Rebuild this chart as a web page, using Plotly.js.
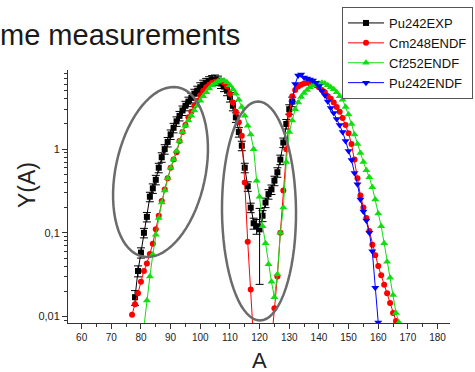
<!DOCTYPE html>
<html>
<head>
<meta charset="utf-8">
<script src="https://cdn.plot.ly/plotly-3.0.1.min.js"></script>
<style>html,body{margin:0;padding:0;background:#fff;}#chart{width:475px;height:372px;}</style>
</head>
<body>
<div id="chart"></div>
<script>
// ---- data ----
const seriesNames = ["Pu242EXP", "Cm248ENDF", "Cf252ENDF", "Pu242ENDF"];

const aPu242Exp = [78,79,80,81,82,83,84,85,86,87,88,89,90,91,92,93,94,95,96,97,98,99,100,101,102,103,104,105,106,107,108,109,110,111,112,113,114,115,116,117,118,119,120,121,122,123,124,125,126,127,128,129,130,131];
const yPu242Exp = [0.017,0.035,0.058,0.1,0.155,0.27,0.34,0.43,0.6,0.8,1.0,1.22,1.5,1.8,2.15,2.5,2.9,3.3,3.7,4.1,4.6,5.0,5.5,5.9,6.2,6.5,6.7,6.8,6.6,6.1,5.6,5.0,4.2,3.3,2.4,1.6,1.1,0.6,0.36,0.2,0.13,0.12,0.11,0.16,0.23,0.29,0.33,0.42,0.53,0.75,1.2,2.0,3.0,3.7];
const relErrPu242Exp = [0.2,0.15,0.14,0.13,0.13,0.13,0.13,0.13,0.13,0.13,0.13,0.13,0.13,0.13,0.13,0.13,0.13,0.13,0.13,0.13,0.13,0.13,0.13,0.13,0.13,0.13,0.13,0.13,0.13,0.13,0.13,0.13,0.13,0.13,0.13,0.13,0.13,0.13,0.13,0.13,0.15,0.2,0.78,0.15,0.13,0.13,0.13,0.13,0.13,0.13,0.13,0.13,0.13,0.13];

const aCm248 = [77,78,79,80,81,82,83,84,85,86,87,88,89,90,91,92,93,94,95,96,97,98,99,100,101,102,103,104,105,106,107,108,109,110,111,112,113,114,115,116,117,118,124,125,126,127,128,129,130,131,132,133,134,135,136,137,138,139,140,141,142,143,144,145,146,147,148,149,150,151,152,153,154,155,156,157,158,159,160,161,162,163,164,165,166];
const yCm248 = [0.0105,0.014,0.019,0.026,0.035,0.043,0.056,0.074,0.11,0.16,0.24,0.33,0.45,0.6,0.75,0.92,1.25,1.6,1.95,2.4,2.8,3.3,3.8,4.4,5.0,5.5,5.9,6.2,6.4,6.5,6.5,6.2,5.6,4.6,3.6,2.8,2.1,1.45,0.4,0.078,0.021,0.005,0.005,0.0125,0.03,0.1,0.32,1.0,2.6,4.3,5.1,5.6,5.9,6.1,6.2,6.1,6.0,5.8,5.5,5.1,4.8,4.3,4.0,3.6,3.2,2.8,2.35,1.95,1.55,1.15,0.75,0.45,0.28,0.2,0.15,0.105,0.072,0.054,0.04,0.031,0.024,0.019,0.0145,0.011,0.0088];

const aCf252 = [81,82,83,84,85,86,87,88,89,90,91,92,93,94,95,96,97,98,99,100,101,102,103,104,105,106,107,108,109,110,111,112,113,114,115,116,117,118,119,120,121,122,123,124,125,126,127,128,129,130,131,132,133,134,135,136,137,138,139,140,141,142,143,144,145,146,147,148,149,150,151,152,153,154,155,156,157,158,159,160,161,162,163,164,165,166,167];
const yCf252 = [0.0075,0.0155,0.03,0.055,0.095,0.15,0.23,0.32,0.45,0.6,0.75,0.95,1.25,1.6,1.9,2.2,2.5,2.9,3.3,3.8,4.3,4.8,5.3,5.8,6.1,6.5,6.7,6.6,6.3,5.8,5.2,4.6,3.9,3.2,2.5,1.9,1.5,1.0,0.42,0.27,0.12,0.075,0.042,0.026,0.017,0.032,0.1,0.2,0.7,1.6,2.2,3.0,3.6,4.2,4.7,5.1,5.5,5.8,6.0,6.1,6.2,6.1,5.8,5.5,5.2,4.8,4.3,3.9,3.2,2.6,2.0,1.5,1.15,0.9,0.7,0.56,0.46,0.35,0.25,0.17,0.12,0.075,0.045,0.029,0.018,0.011,0.0085];

const aPu242Endf = [131,132,133,134,135,136,137,138,139,140,141,142,143,144,145,146,147,148,149,150,151,152,153,154,155,156,157,158,159,160];
const yPu242Endf = [3.6,6.0,7.6,7.8,7.2,7.0,6.8,6.6,6.2,5.7,5.0,4.4,3.7,3.1,2.7,2.3,1.95,1.6,1.25,0.95,0.74,0.52,0.38,0.25,0.18,0.14,0.1,0.06,0.022,0.0085];

const yTickVals = [0.01, 0.1, 1];
const yTickText = ["0,01", "0,1", "1"];

// ---- layout geometry (pixels of the plot area) ----
const PL = 68, PT = 70, PW = 382, PH = 253;
function toPaper(px, py) { return [(px - PL) / PW, (PT + PH - py) / PH]; }
function ellipsePath(cx, cy, a, b, angDeg) {
  const t = angDeg * Math.PI / 180;
  const ux = Math.cos(t), uy = -Math.sin(t), vx = Math.sin(t), vy = Math.cos(t);
  let d = "";
  for (let i = 0; i <= 72; i++) {
    const s = i / 72 * 2 * Math.PI;
    const px = cx + a * Math.cos(s) * ux + b * Math.sin(s) * vx;
    const py = cy + a * Math.cos(s) * uy + b * Math.sin(s) * vy;
    const p = toPaper(px, py);
    d += (i === 0 ? "M" : "L") + p[0].toFixed(4) + "," + p[1].toFixed(4);
  }
  return d + "Z";
}

const FONT = "Liberation Sans, Arial, sans-serif";

const traces = [
  {
    name: seriesNames[0], x: aPu242Exp, y: yPu242Exp, type: "scatter", mode: "lines+markers",
    line: {color: "#000000", width: 1},
    marker: {symbol: "square", size: 6, color: "#000000"},
    error_y: {type: "data", array: yPu242Exp.map((v, i) => v * relErrPu242Exp[i]), visible: true,
              color: "#000000", thickness: 1, width: 4}
  },
  {
    name: seriesNames[1], x: aCm248, y: yCm248, type: "scatter", mode: "lines+markers",
    line: {color: "#ff0000", width: 1},
    marker: {symbol: "circle", size: 6, color: "#ff0000"}
  },
  {
    name: seriesNames[2], x: aCf252, y: yCf252, type: "scatter", mode: "lines+markers",
    line: {color: "#11dd11", width: 1},
    marker: {symbol: "triangle-up", size: 7, color: "#11dd11"}
  },
  {
    name: seriesNames[3], x: aPu242Endf, y: yPu242Endf, type: "scatter", mode: "lines+markers",
    line: {color: "#0000ff", width: 1},
    marker: {symbol: "triangle-down", size: 7, color: "#0000ff"}
  }
];

const layout = {
  width: 475, height: 372,
  margin: {l: PL, r: 475 - PL - PW, t: PT, b: 372 - PT - PH, pad: 0, autoexpand: false},
  paper_bgcolor: "#ffffff", plot_bgcolor: "#ffffff",
  font: {family: FONT, color: "#222222"},
  showlegend: true,
  title: {text: "me measurements", x: 0, xref: "container", xanchor: "left",
          y: 1 - 35 / 372, yref: "container", yanchor: "middle",
          font: {family: FONT, size: 29, color: "#1a1a1a"}},
  xaxis: {
    range: [55.4, 184.2], showgrid: false, zeroline: false,
    showline: true, linecolor: "#333333", linewidth: 1, mirror: false,
    ticks: "outside", ticklen: 5, tickcolor: "#333333", tick0: 0, dtick: 10,
    minor: {dtick: 5, tick0: 0, ticklen: 3, ticks: "outside", tickcolor: "#333333"},
    tickfont: {family: FONT, size: 10, color: "#222222"}
  },
  yaxis: {
    type: "log", range: [-2.078, 0.946], showgrid: false, zeroline: false,
    showline: true, linecolor: "#333333", linewidth: 1,
    ticks: "outside", ticklen: 5, tickcolor: "#333333",
    tickmode: "array", tickvals: yTickVals, ticktext: yTickText,
    minor: {dtick: "D1", ticklen: 3, ticks: "outside", tickcolor: "#333333"},
    tickfont: {family: FONT, size: 11, color: "#222222"}
  },
  legend: {
    x: (342 - PL) / PW, y: (PT + PH - 7) / PH, xanchor: "left", yanchor: "top",
    bgcolor: "#ffffff", bordercolor: "#555555", borderwidth: 1,
    font: {family: FONT, size: 13, color: "#111111"}, itemwidth: 36, tracegroupgap: 0
  },
  annotations: [
    {text: "Y(A)", xref: "paper", yref: "paper", x: toPaper(27, 185)[0], y: toPaper(27, 185)[1],
     xanchor: "center", yanchor: "middle", textangle: -90, showarrow: false,
     font: {family: FONT, size: 23, color: "#222222"}},
    {text: "A", xref: "paper", yref: "paper", x: toPaper(259, 360)[0], y: toPaper(259, 360)[1],
     xanchor: "center", yanchor: "middle", showarrow: false,
     font: {family: FONT, size: 22, color: "#222222"}}
  ],
  shapes: [
    {type: "path", xref: "paper", yref: "paper", layer: "above",
     path: ellipsePath(160.5, 172, 86.4, 44.9, 78), line: {color: "#6b6b6b", width: 2.5}},
    {type: "path", xref: "paper", yref: "paper", layer: "above",
     path: ellipsePath(259, 211, 109.5, 37, 90.5), line: {color: "#6b6b6b", width: 2.5}}
  ]
};

Plotly.newPlot("chart", traces, layout, {displayModeBar: false, staticPlot: true});
</script>
</body>
</html>
